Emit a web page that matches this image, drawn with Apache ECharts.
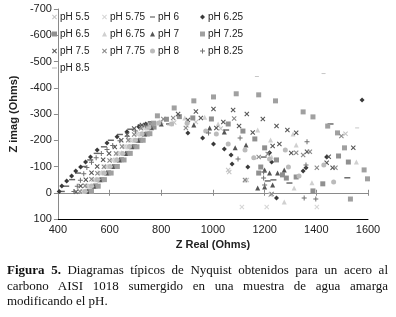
<!DOCTYPE html>
<html>
<head>
<meta charset="utf-8">
<script src="https://cdn.jsdelivr.net/npm/echarts@6/dist/echarts.min.js"></script>
<style>
  html, body { margin: 0; padding: 0; background: #fff; }
  #wrap { position: relative; width: 396px; height: 317px; }
  #chart { position: absolute; left: 0; top: 0; width: 396px; height: 317px; }
  #cap { position: absolute; left: 7px; top: 262px; width: 381px; font-family: "Liberation Serif", serif; font-size: 13px; line-height: 15.5px; color: #111; }
  #cap div { text-align: justify; text-align-last: justify; white-space: nowrap; }
  #cap div.last { text-align: left; text-align-last: left; }
</style>
</head>
<body>
<div id="wrap">
  <div id="chart"></div>
  <div id="cap">
    <div><b>Figura 5.</b> Diagramas típicos de Nyquist obtenidos para un acero al</div>
    <div>carbono AISI 1018 sumergido en una muestra de agua amarga</div>
    <div class="last">modificando el pH.</div>
  </div>
</div>
<script>
// Nyquist data [Z real, Z imag] (Ohms)
var names = ['pH 5.5', 'pH 5.75', 'pH 6', 'pH 6.25', 'pH 6.5', 'pH 6.75', 'pH 7',
  'pH 7.25', 'pH 7.5', 'pH 7.75', 'pH 8', 'pH 8.25', 'pH 8.5'];

var ph55 = [[495,-5],[513,-26],[538,-50],[562,-76],[585,-99],[610,-126],[632,-149],[657,-176],[680,-200],
  [705,-224],[730,-248],[760,-262],[800,-270],[850,-268],[934,-270],[1030,-245],[1059,-87],[1063,-79],
  [1131,-49],[1223,8],[1513,-225]];
var ph575 = [[500,-4],[520,-25],[543,-51],[566,-74],[591,-101],[614,-124],[639,-151],[661,-174],[686,-201],
  [709,-223],[735,-249],[770,-265],[840,-262],[900,-255],[1112,54],[1208,54],[1402,54]];
var ph6 = [[415,-5],[432,-25],[455,-50],[478,-75],[500,-100],[525,-125],[550,-150],[578,-175],[605,-200],
  [640,-222],[680,-242],[720,-258],[760,-270],[830,-262],[1051,-239],[1196,-136],[1212,-45],[1234,-49],
  [1296,-37],[1455,-262],[1520,-57]];
var ph625 = [[405,-5],[415,-26],[434,-45],[453,-64],[469,-83],[488,-98],[507,-117],[526,-136],[552,-163],
  [590,-190],[629,-213],[667,-232],[713,-251],[740,-262],[903,-228],[960,-209],[1002,-186],[1044,-167],
  [1070,-144],[1074,-110],[1135,-98],[1219,-152],[1227,-117],[1246,20],[1349,-83],[1360,-95],[1440,-136],
  [1577,-353]];
var ph65 = [[520,-5],[545,-26],[570,-50],[596,-76],[620,-100],[646,-126],[670,-150],[696,-176],[720,-200],
  [746,-224],[772,-250],[820,-280],[870,-290],[922,-285],[994,-281],[1059,-262],[1116,-235],[1162,-205],
  [1200,-171],[1246,-125],[1185,-98],[1177,-75],[1269,-68],[1284,-56],[1322,-60],[1387,-7],[1425,-34],
  [1486,-140],[1524,-117]];
var ph675 = [[500,-5],[522,-25],[549,-50],[572,-76],[598,-100],[622,-124],[647,-151],[670,-175],[695,-200],
  [720,-224],[745,-247],[780,-266],[891,-285],[968,-288],[1020,-262],[1124,-49],[1173,-239],[1223,-201],
  [1227,-136],[1276,35],[1310,-224],[1314,-18],[1322,-182],[1383,-38],[1555,-117]];
var ph7 = [[515,-5],[540,-25],[563,-50],[589,-75],[612,-100],[638,-125],[662,-150],[686,-175],[710,-200],
  [735,-224],[762,-248],[800,-262],[926,-258],[987,-247],[1044,-231],[1086,-171],[1128,-182],[1173,-18],
  [1200,-22],[1231,-30],[1200,-87],[1219,-75],[1250,-75],[1276,-87]];
var ph725 = [[530,-5],[556,-25],[580,-50],[606,-75],[630,-100],[656,-125],[680,-150],[706,-175],[730,-200],
  [756,-225],[770,-265],[785,-293],[850,-323],[926,-350],[1002,-365],[1090,-377],[1177,-373],[1242,-350],
  [1349,-308],[1387,-289],[1444,-254],[1482,-228],[1509,-171],[1585,-87],[1598,-53],[1532,24]];
var ph75 = [[470,-4],[488,-26],[508,-50],[530,-76],[552,-100],[575,-126],[598,-150],[620,-174],[645,-200],
  [668,-222],[695,-245],[725,-258],[865,-300],[903,-277],[934,-310],[953,-285],[1002,-319],[1013,-247],
  [1040,-270],[1078,-315],[1101,-254],[1131,-300],[1154,-230],[1193,-281],[1231,-178],[1246,-254],
  [1257,-186],[1288,-239],[1322,-229],[1303,-151],[1364,-156],[1448,-137],[1440,-114],[1463,-95],[1543,-171]];
var ph775 = [[485,-5],[505,-27],[530,-51],[553,-74],[578,-99],[600,-123],[625,-150],[648,-176],[672,-200],
  [695,-222],[722,-246],[755,-262],[808,-281],[846,-285],[895,-247],[1082,-283],[1124,-49],[1177,-136],
  [1212,-148],[1227,5],[1322,-152],[1349,-144],[1375,-156],[1402,-95],[1474,-95],[1497,-216]];
var ph8 = [[505,-5],[530,-26],[553,-50],[579,-75],[602,-100],[628,-126],[651,-150],[677,-176],[700,-200],
  [726,-225],[752,-250],[790,-266],[840,-262],[900,-265],[972,-235],[1013,-224],[1059,-186],[1124,-163],
  [1158,-133],[1219,-129],[1280,-163],[1292,-98],[1333,-64],[1429,-106],[1467,-41]];
var ph825 = [[462,-5],[475,-25],[487,-48],[500,-72],[512,-96],[530,-116],[548,-133],[568,-150],[590,-165],
  [612,-180],[640,-198],[668,-215],[700,-235],[740,-255],[983,-228],[1097,-129],[1105,-209],[1196,-56],
  [1200,-30],[1196,-79],[1353,20],[1364,-194],[1360,-106],[1398,24]];
var ph85 = [[510,-5],[533,-24],[558,-51],[582,-75],[605,-99],[630,-125],[653,-150],[677,-175],[701,-200],
  [725,-224],[750,-249],[830,-258],[1170,-443],[1428,-454],[1558,-247]];

var allData = [ph55, ph575, ph6, ph625, ph65, ph675, ph7, ph725, ph75, ph775, ph8, ph825, ph85];

// marker looks (Excel grey scale defaults)
var xMark = 'path://M0,1.5L1.5,0L5,3.5L8.5,0L10,1.5L6.5,5L10,8.5L8.5,10L5,6.5L1.5,10L0,8.5L3.5,5Z';
var plusMark = 'path://M4,0H6V4H10V6H6V10H4V6H0V4H4Z';
var dashMark = 'path://M0,0H10V2.4H0Z';
var looks = [
  { symbol: xMark, color: '#c4c4c4', size: 5 },
  { symbol: xMark, color: '#d6d6d6', size: 5 },
  { symbol: dashMark, color: '#666666', size: 6 },
  { symbol: 'diamond', color: '#3a3a3a', size: 5 },
  { symbol: 'rect', color: '#909090', size: 5 },
  { symbol: 'triangle', color: '#d0d0d0', size: 5 },
  { symbol: 'triangle', color: '#555555', size: 5 },
  { symbol: 'rect', color: '#a0a0a0', size: 5 },
  { symbol: xMark, color: '#555555', size: 5 },
  { symbol: xMark, color: '#888888', size: 5 },
  { symbol: 'circle', color: '#bbbbbb', size: 5 },
  { symbol: plusMark, color: '#707070', size: 5 },
  { symbol: dashMark, color: '#c4c4c4', size: 4 }
];

var font = 'Liberation Sans, Arial, sans-serif';

var series = names.map(function (n, i) {
  return {
    name: n,
    type: 'scatter',
    xAxisIndex: 0,
    symbol: looks[i].symbol,
    symbolSize: looks[i].size,
    symbolKeepAspect: true,
    itemStyle: { color: looks[i].color, opacity: 1 },
    data: allData[i]
  };
});

function legendCol(left, items) {
  return {
    orient: 'vertical',
    left: left,
    top: 11,
    padding: 0,
    itemWidth: 5,
    itemHeight: 5,
    itemGap: 5,
    symbolKeepAspect: true,
    textStyle: { fontSize: 10, color: '#222', fontFamily: font, lineHeight: 12, padding: [0, 0, 0, -2] },
    data: items
  };
}

function zeroAxis(inside) {
  return {
    type: 'value', min: 400, max: 1600, interval: 200, position: 'bottom',
    axisLine: { onZero: true, onZeroAxisIndex: 0, lineStyle: { color: '#8a8a8a', width: 1 } },
    axisTick: { show: true, inside: inside, length: 3, lineStyle: { color: '#8a8a8a' } },
    axisLabel: { show: false },
    splitLine: { show: false }
  };
}

var myChart = echarts.init(document.getElementById('chart'));
var option = {
  animation: false,
  backgroundColor: '#fff',
  grid: { left: 53, top: 9, width: 315, height: 210 },
  legend: [
    legendCol(52, ['pH 5.5', 'pH 6.5', 'pH 7.5', 'pH 8.5']),
    legendCol(102, ['pH 5.75', 'pH 6.75', 'pH 7.75']),
    legendCol(150, ['pH 6', 'pH 7', 'pH 8']),
    legendCol(200, ['pH 6.25', 'pH 7.25', 'pH 8.25'])
  ],
  xAxis: [
    {
      type: 'value', min: 400, max: 1600, interval: 200, position: 'bottom',
      name: 'Z Real (Ohms)', nameLocation: 'middle', nameGap: 20,
      nameTextStyle: { fontSize: 11, fontWeight: 'bold', color: '#222', fontFamily: font },
      axisLine: { onZero: false, lineStyle: { color: '#000', width: 1 } },
      axisTick: { show: false },
      axisLabel: { fontSize: 11, color: '#222', margin: 5, fontFamily: font,
        formatter: function (v) { return String(v); } },
      splitLine: { show: false }
    },
    zeroAxis(true),
    zeroAxis(false)
  ],
  yAxis: {
    type: 'value', min: -700, max: 100, interval: 100, inverse: true,
    name: 'Z imag (Ohms)', nameLocation: 'middle', nameGap: 28,
    nameTextStyle: { fontSize: 11, fontWeight: 'bold', color: '#222', fontFamily: font },
    axisLine: { show: true, onZero: false, lineStyle: { color: '#8a8a8a', width: 1 } },
    axisTick: { show: true, length: 4, lineStyle: { color: '#8a8a8a' } },
    axisLabel: { fontSize: 11, color: '#222', margin: 6, fontFamily: font },
    splitLine: { show: false }
  },
  series: series
};
myChart.setOption(option, true);
</script>
</body>
</html>
